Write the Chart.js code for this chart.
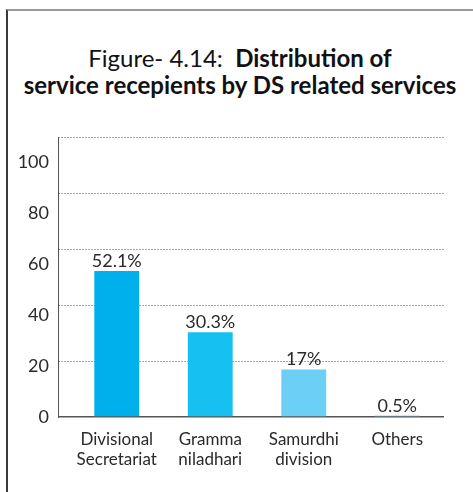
<!DOCTYPE html>
<html>
<head>
<meta charset="utf-8">
<script src="https://cdn.jsdelivr.net/npm/chart.js@4"></script>
<style>
  body { margin: 0; width: 473px; height: 492px; overflow: hidden; background: #fff; position: relative; }
  #marco { position: absolute; left: 6px; top: 9px; width: 520px; height: 520px;
           border-left: 2px solid #3a3a3a; border-top: 2px solid #9a9a9a; }
  #titulo { position: absolute; left: 7px; top: 44px; width: 466px; text-align: center;
            font-family: Lato, sans-serif; font-size: 24px; line-height: 27px; color: #111; }
  #titulo b { font-weight: bold; }
  canvas { position: absolute; left: 0; top: 0; }
</style>
</head>
<body>
<div id="marco"></div>
<div id="titulo">Figure- 4.14:&nbsp; <b>Distribution of</b><br><b>service recepients by DS related services</b></div>
<canvas id="ds-chart" width="473" height="492"></canvas>
<script>
// Categorías y porcentajes del gráfico
var categorias = [["Divisional", "Secretariat"], ["Gramma", "niladhari"], ["Samurdhi", "division"], ["Others"]];
var porcentajes = [52.1, 30.3, 17, 0.5];
var etiquetas = ["52.1%", "30.3%", "17%", "0.5%"];
var ticksY = [0, 20, 40, 60, 80, 100];

var colores = ["rgb(0,176,236)", "rgb(22,192,240)", "rgb(108,208,246)", "rgb(150,216,242)"];
var texto = "#2a2a2a";

// Escribe el porcentaje encima de cada barra
var etiquetasBarras = {
  id: "etiquetasBarras",
  afterDatasetsDraw: function (chart) {
    var ctx = chart.ctx;
    var meta = chart.getDatasetMeta(0);
    ctx.save();
    ctx.font = "18px Lato, sans-serif";
    ctx.fillStyle = texto;
    ctx.textAlign = "center";
    ctx.textBaseline = "alphabetic";
    meta.data.forEach(function (bar, i) {
      ctx.fillText(etiquetas[i], bar.x, bar.y - 4);
    });
    ctx.restore();
  }
};

var canvas = document.getElementById("ds-chart");
var ctx = canvas.getContext("2d");

var chart = new Chart(ctx, {
  type: "bar",
  data: {
    labels: categorias,
    datasets: [{
      data: porcentajes,
      backgroundColor: colores,
      barPercentage: 0.48,
      categoryPercentage: 1
    }]
  },
  options: {
    responsive: false,
    animation: false,
    layout: { padding: { top: 137, right: 29, bottom: 0, left: 0 } },
    plugins: { legend: { display: false }, tooltip: { enabled: false } },
    scales: {
      x: {
        grid: { display: false },
        border: { display: false },
        ticks: { color: texto, font: { family: "Lato, sans-serif", size: 17, lineHeight: 1.18 }, padding: 4, maxRotation: 0 },
        afterFit: function (s) { s.height = 75; }
      },
      // eje de las líneas de división (0 - 100)
      y: {
        min: 0,
        max: 100,
        weight: 0,
        ticks: { display: false, stepSize: 20 },
        border: {
          display: false,
          dash: function (c) { return c.tick && c.tick.value === 0 ? [] : [2, 1]; }
        },
        grid: {
          tickLength: 12,
          lineWidth: function (c) { return c.tick && c.tick.value === 0 ? 1.5 : 1; },
          color: function (c) { return c.tick && c.tick.value === 0 ? "#555555" : "#a6a6a6"; },
          tickColor: function (c) { return c.tick && c.tick.value === 0 ? "#555555" : "#a6a6a6"; },
          tickBorderDash: function (c) { return c.tick && c.tick.value === 0 ? [] : [2, 1]; }
        }
      },
      // eje de los rótulos, con el trazo vertical
      y2: {
        position: "left",
        weight: 1,
        min: 0,
        max: 110,
        afterBuildTicks: function (s) {
          s.ticks = ticksY.map(function (v) { return { value: v }; });
        },
        grid: { display: false, drawTicks: false },
        border: { display: true, color: "#555555", width: 1 },
        ticks: { color: texto, font: { family: "Lato, sans-serif", size: 18 }, padding: 9 },
        afterFit: function (s) { s.width = 58; }
      }
    }
  },
  plugins: [etiquetasBarras]
});
</script>
</body>
</html>
